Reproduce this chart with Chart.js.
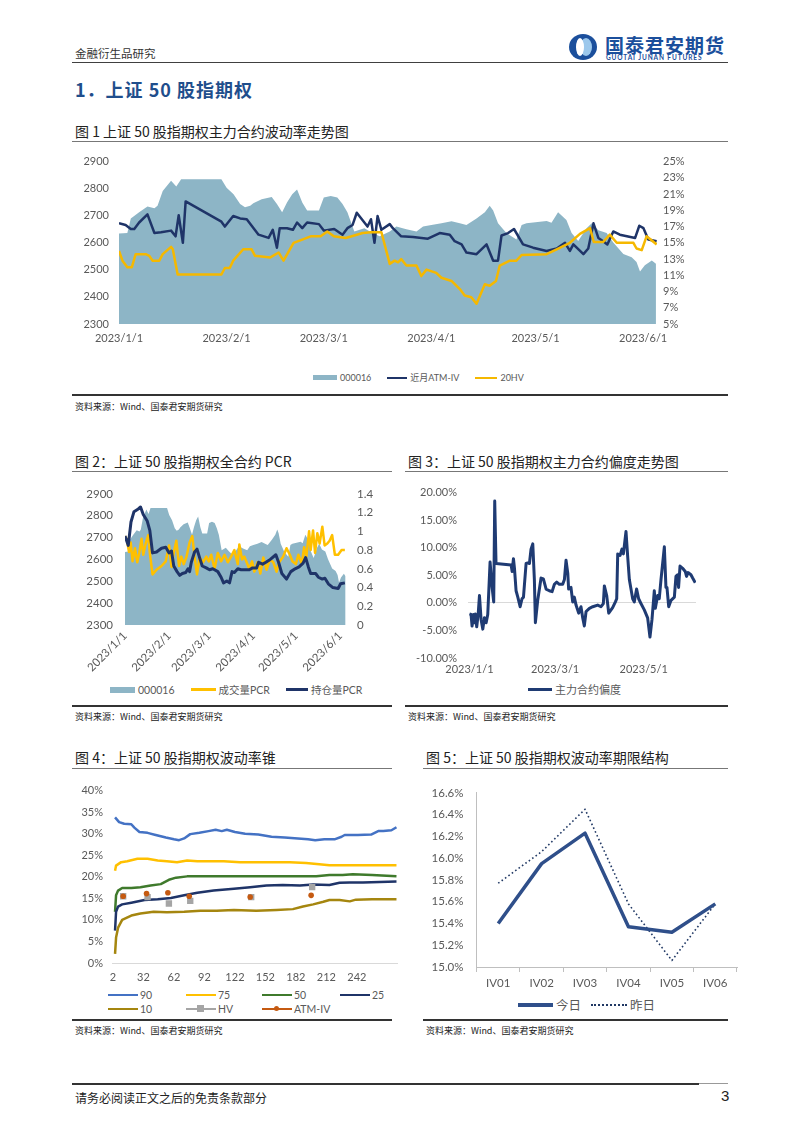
<!DOCTYPE html>
<html>
<head>
<meta charset="utf-8">
<script src="https://cdn.jsdelivr.net/npm/chart.js@4.4.0/dist/chart.umd.min.js"></script>
<style>
  body { margin: 0; background: #fff; }
  #page { position: relative; width: 802px; height: 1134px; overflow: hidden; font-family: "Noto Sans CJK SC", sans-serif; color: #222; }
  .rule { position: absolute; height: 0; border-top: 1.5px solid #404040; }
  .txt { position: absolute; white-space: nowrap; }
  .cap { position: absolute; white-space: nowrap; font-size: 14px; line-height: 16px; color: #222; }
  .src { position: absolute; white-space: nowrap; font-size: 9px; line-height: 12px; color: #222; }
  .box { position: absolute; }
  .legend { position: absolute; white-space: nowrap; font-family: Lato, "Noto Sans CJK SC", sans-serif; color: #595959; display: flex; align-items: center; }
  .lg { display: inline-flex; align-items: center; margin-right: 16px; }
  .lg i { display: inline-block; margin-right: 3px; position: relative; }
  .cell { position: absolute; display: flex; align-items: center; font-family: Lato, "Noto Sans CJK SC", sans-serif; color: #595959; font-size: 10.5px; }
  .cell i { display: inline-block; width: 30px; height: 0; border-top: 2.5px solid; margin-right: 2px; position: relative; }
  .cell b { position: absolute; left: 11px; top: -5.5px; width: 7px; height: 7px; }
</style>
</head>
<body>
<div id="page">
  <div class="txt" style="left:75px;top:45px;font-size:11.5px;color:#333;">金融衍生品研究</div>
  <div class="txt" style="left:569px;top:34px;width:28px;height:26px;border-radius:50%;background:#1b4f9c;"></div>
  <div class="txt" style="left:580px;top:38px;width:12px;height:18px;border-radius:50%;background:#9cc8ec;"></div>
  <div class="txt" style="left:576px;top:38px;width:8px;height:18px;border-radius:50%;background:#fff;"></div>
  <div class="txt" style="left:605px;top:31px;font-size:19px;font-weight:700;color:#1b4f9c;letter-spacing:1px;">国泰君安期货</div>
  <div class="txt" style="left:606px;top:54px;font-size:6.5px;font-family:Lato,sans-serif;font-weight:700;color:#1b4f9c;letter-spacing:0.9px;">GUOTAI JUNAN FUTURES</div>
  <div class="rule" style="left:72px;top:62px;width:656px;"></div>

  <div class="txt" style="left:75px;top:76px;font-size:18px;font-weight:700;color:#1f4e8c;letter-spacing:1px;">1．上证 50 股指期权</div>

  <!-- figure 1 -->
  <div class="cap" style="left:75px;top:123px;">图 1 上证 50 股指期权主力合约波动率走势图</div>
  <div class="rule" style="left:72px;top:141px;width:656px;border-color:#777;"></div>
  <div class="box" style="left:72px;top:145px;width:656px;height:200px;"><canvas id="c1"></canvas></div>
  <div class="legend" style="left:313px;top:371px;font-size:9px;">
    <span class="lg"><i style="width:24px;height:5px;background:#8db5c6;"></i>000016</span>
    <span class="lg"><i style="width:20px;border-top:2.5px solid #1f3468;"></i>近月ATM-IV</span>
    <span class="lg"><i style="width:22px;border-top:2.5px solid #f5b800;"></i>20HV</span>
  </div>
  <div class="rule" style="left:72px;top:394px;width:656px;border-top-width:2px;border-color:#333;"></div>
  <div class="src" style="left:75px;top:401px;">资料来源：Wind、国泰君安期货研究</div>

  <!-- figure 2 -->
  <div class="cap" style="left:75px;top:453px;">图 2：上证 50 股指期权全合约 PCR</div>
  <div class="rule" style="left:72px;top:471px;width:320px;border-color:#777;"></div>
  <div class="box" style="left:72px;top:475px;width:320px;height:200px;"><canvas id="c2"></canvas></div>
  <div class="legend" style="left:110px;top:682px;font-size:10.5px;">
    <span class="lg"><i style="width:25px;height:6px;background:#8db5c6;"></i>000016</span>
    <span class="lg"><i style="width:25px;border-top:3px solid #ffc000;"></i>成交量PCR</span>
    <span class="lg"><i style="width:22px;border-top:3px solid #1f3468;"></i>持仓量PCR</span>
  </div>
  <div class="rule" style="left:72px;top:705px;width:320px;border-top-width:2px;border-color:#333;"></div>
  <div class="src" style="left:75px;top:711px;">资料来源：Wind、国泰君安期货研究</div>

  <!-- figure 3 -->
  <div class="cap" style="left:408px;top:453px;">图 3：上证 50 股指期权主力合约偏度走势图</div>
  <div class="rule" style="left:405px;top:471px;width:323px;border-color:#777;"></div>
  <div class="box" style="left:405px;top:475px;width:323px;height:203px;"><canvas id="c3"></canvas></div>
  <div class="legend" style="left:528px;top:681px;font-size:11px;">
    <span class="lg"><i style="width:24px;border-top:3px solid #1f3b73;"></i>主力合约偏度</span>
  </div>
  <div class="rule" style="left:405px;top:705px;width:323px;border-top-width:2px;border-color:#333;"></div>
  <div class="src" style="left:408px;top:711px;">资料来源：Wind、国泰君安期货研究</div>

  <!-- figure 4 -->
  <div class="cap" style="left:75px;top:749px;">图 4：上证 50 股指期权波动率锥</div>
  <div class="rule" style="left:72px;top:768px;width:320px;border-color:#777;"></div>
  <div class="box" style="left:72px;top:775px;width:330px;height:210px;"><canvas id="c4"></canvas></div>
  <div class="cell" style="left:108px;top:989px;"><i style="border-color:#4472c4;"></i>90</div>
  <div class="cell" style="left:186px;top:989px;"><i style="border-color:#ffc000;"></i>75</div>
  <div class="cell" style="left:262px;top:989px;"><i style="border-color:#3f7a2c;"></i>50</div>
  <div class="cell" style="left:340px;top:989px;"><i style="border-color:#1f3468;"></i>25</div>
  <div class="cell" style="left:108px;top:1003px;"><i style="border-color:#a5860f;"></i>10</div>
  <div class="cell" style="left:186px;top:1003px;"><i style="border-color:#a5a5a5;"><b style="background:#a5a5a5;"></b></i>HV</div>
  <div class="cell" style="left:262px;top:1003px;"><i style="border-color:#c55a11;"><b style="background:#c55a11;border-radius:50%;width:5px;height:5px;top:-4px;left:12px;"></b></i>ATM-IV</div>
  <div class="rule" style="left:72px;top:1019px;width:320px;border-top-width:2px;border-color:#333;"></div>
  <div class="src" style="left:75px;top:1025px;">资料来源：Wind、国泰君安期货研究</div>

  <!-- figure 5 -->
  <div class="cap" style="left:426px;top:749px;">图 5：上证 50 股指期权波动率期限结构</div>
  <div class="rule" style="left:423px;top:768px;width:305px;border-color:#777;"></div>
  <div class="box" style="left:405px;top:773px;width:335px;height:218px;"><canvas id="c5"></canvas></div>
  <div class="legend" style="left:518px;top:995px;font-size:12.5px;font-family:'Noto Sans CJK SC',sans-serif;">
    <span class="lg" style="margin-right:10px;"><i style="width:35px;border-top:4px solid #2f4f8a;"></i>今日</span>
    <span class="lg"><i style="width:36px;border-top:2px dotted #203864;"></i>昨日</span>
  </div>
  <div class="rule" style="left:423px;top:1019px;width:305px;border-top-width:2px;border-color:#333;"></div>
  <div class="src" style="left:426px;top:1025px;">资料来源：Wind、国泰君安期货研究</div>

  <!-- footer -->
  <div class="rule" style="left:72px;top:1083px;width:627px;border-top-width:2px;border-color:#333;"></div>
  <div class="rule" style="left:699px;top:1083px;width:29px;border-color:#999;"></div>
  <div class="txt" style="left:75px;top:1089px;font-size:12px;color:#222;">请务必阅读正文之后的免责条款部分</div>
  <div class="txt" style="left:721px;top:1087px;font-size:15px;font-family:'Liberation Sans',sans-serif;color:#222;">3</div>
</div>

<script>
// ---- shared date ticks (days since 2023/1/1) ----
const monthDays = [0, 31, 59, 90, 120, 151];
const monthLabels = ['2023/1/1', '2023/2/1', '2023/3/1', '2023/4/1', '2023/5/1', '2023/6/1'];

// ---- 000016 index (figures 1 and 2) ----
const idxDays = [0, 2.4, 3.4, 5.8, 8.2, 10.2, 11.1, 12.6, 15, 16.5, 17.9, 29.5, 31, 33, 34.9, 36.3, 37.8, 38.7, 41.1, 44,
  45.5, 47, 48.4, 49.9, 51.3, 52.8, 54.2, 57.6, 59, 61, 62.9, 64.4, 65.8, 67.8, 70.7, 73, 75.1, 78, 79.9, 82.8,
  85.7, 87.6, 90, 92.9, 95.8, 98.2, 100.1, 103, 105.4, 106.8, 107.8, 109.2, 111.6, 114.5, 116, 117.4, 123.2, 124.6, 126.5, 128.9,
  130.4, 132.3, 134.7, 136.2, 138.1, 140.5, 142.4, 145.3, 147.7, 149.1, 150.1, 151.5, 153.5, 154.7];
const idxVals = [2634, 2636, 2690, 2713, 2734, 2728, 2737, 2791, 2829, 2808, 2835, 2835, 2803, 2779, 2743, 2731, 2737, 2746, 2761, 2769,
  2743, 2713, 2749, 2779, 2797, 2749, 2719, 2719, 2767, 2773, 2767, 2743, 2713, 2642, 2654, 2636, 2624, 2642, 2660, 2650,
  2642, 2660, 2666, 2672, 2680, 2672, 2666, 2690, 2713, 2737, 2719, 2672, 2636, 2612, 2666, 2672, 2681, 2674, 2713, 2684,
  2636, 2607, 2654, 2672, 2646, 2636, 2601, 2559, 2547, 2529, 2494, 2517, 2535, 2523];

// ---- figure 1: near-month ATM IV and 20-day HV (%) ----
const ivDays = [0, 1.9, 3.4, 4.4, 5.8, 8.2, 10.2, 12.1, 15, 16.3, 17.2, 18.4, 19.2, 29.5, 30.5, 32.9, 34.9, 36.8, 40.2, 43.1,
  44.3, 45.5, 46.3, 48.4, 50.1, 51.3, 52.8, 54.2, 57.6, 59, 62, 64.4, 65.8, 67.3, 68.5, 71.6, 72.6, 73.6, 74.5, 75.6,
  78, 78.9, 81.3, 84.7, 89, 92.4, 95.3, 96.7, 98.7, 100.1, 103, 105.9, 107.8, 109.2, 110.2, 112.1, 113.8, 116.4, 119.3, 123.2,
  126.1, 128.5, 129.9, 130.9, 133.8, 135.2, 136.7, 138.1, 139.5, 140.7, 142.4, 144.3, 148.7, 149.9, 151.1, 152.5, 154.9];
const ivVals = [17.4, 17.2, 16.7, 16.7, 17.5, 18.5, 16.2, 16.3, 16.5, 15.8, 18.4, 15.0, 20.1, 17.6, 17.0, 18.3, 18.0, 17.9, 16.0, 15.6,
  16.6, 14.4, 16.8, 16.8, 16.6, 17.5, 16.8, 17.5, 17.3, 16.5, 16.7, 16.0, 16.8, 17.2, 18.7, 17.0, 17.9, 15.0, 18.3, 16.6,
  17.3, 16.8, 15.8, 15.7, 15.5, 16.2, 16.0, 15.2, 14.8, 13.8, 13.6, 14.8, 12.8, 12.8, 15.9, 16.2, 16.7, 14.8, 14.4, 14.0,
  14.3, 15.0, 14.0, 14.8, 13.6, 14.3, 17.4, 15.6, 15.2, 14.8, 16.4, 16.0, 15.6, 17.1, 16.8, 15.4, 15.2];
const hvDays = [0, 1, 2.4, 3.7, 4.8, 7.7, 8.7, 9.7, 11.6, 12.6, 15, 15.5, 16.9, 29.5, 30.5, 31.9, 32.9, 35.8, 38.2, 39.2,
  43.6, 46, 47.4, 50.3, 52.8, 55.2, 58.1, 60, 61.9, 65.3, 67.8, 70.2, 72.6, 75.6, 78, 79.4, 80.4, 81.3, 82.8, 85.7,
  87.1, 88.6, 91.4, 92.9, 95.8, 98.2, 99.6, 101.5, 103, 105.4, 106.8, 108.6, 109.7, 112.6, 114.5, 116, 123.2, 126.1, 129.9, 132.8,
  135.7, 136.8, 139.5, 141.4, 143.4, 148.2, 149.1, 150.6, 152, 154.9];
const hvVals = [14.0, 12.8, 12.0, 12.0, 13.6, 13.6, 13.4, 12.8, 12.8, 13.6, 14.5, 14.2, 11.1, 11.1, 11.9, 11.9, 12.8, 14.2, 14.2, 13.4,
  13.2, 13.8, 12.8, 15.0, 15.4, 15.8, 15.8, 16.4, 15.8, 15.6, 15.9, 16.2, 16.3, 16.3, 12.4, 12.8, 12.6, 13.0, 12.2, 12.2,
  10.9, 11.7, 11.3, 10.7, 10.3, 9.3, 8.5, 8.3, 7.5, 9.9, 9.7, 10.3, 12.2, 12.8, 12.8, 13.5, 13.6, 14.2, 15.0, 16.1,
  16.8, 15.1, 15.1, 16.0, 15.0, 15.0, 14.3, 14.1, 15.8, 14.8];

// ---- figure 2: PCR ----
const volPcrDays = [0, 1.2, 2.8, 4, 5.3, 7, 8.6, 10, 11.6, 12.8, 14.7, 16.3, 17.4, 19.3, 22.1, 25.6, 28.6, 30.9, 32.6, 34.2,
  36, 37.9, 39.5, 41.2, 43, 45.3, 47.2, 48.8, 50.5, 52.3, 54.7, 57, 58.8, 60.5, 62.8, 65.1, 67.4, 69.8, 72.1, 74.4,
  76.7, 79.1, 80.2, 82.1, 83.7, 85.3, 87.2, 89.1, 90.7, 93, 94.9, 97, 99.3, 101.6, 104, 106.3, 108.1, 110.9, 113.3, 115.6,
  117.4, 119.8, 121.6, 124, 125.6, 127.2, 129.1, 130.2, 131.9, 133.3, 134.9, 136.5, 138.4, 140, 141.9, 143.5, 145.3, 147.2, 149.5, 151.9, 154.2];
const volPcrVals = [0.95, 0.92, 0.78, 0.88, 0.68, 0.82, 0.67, 0.77, 0.92, 0.75, 0.88, 0.96, 0.77, 0.54, 0.59, 0.63, 0.68, 0.85, 0.62, 0.77,
  0.90, 0.63, 0.73, 0.65, 0.72, 0.88, 0.95, 0.73, 0.54, 0.72, 0.67, 0.73, 0.68, 0.75, 0.60, 0.77, 0.68, 0.75, 0.67, 0.73,
  0.80, 0.65, 0.86, 0.70, 0.73, 0.67, 0.60, 0.68, 0.57, 0.67, 0.55, 0.72, 0.59, 0.70, 0.67, 0.57, 0.67, 0.73, 0.82, 0.75,
  0.68, 0.65, 0.75, 0.65, 0.83, 0.73, 1.00, 0.80, 1.01, 0.77, 0.98, 0.87, 1.05, 0.85, 0.87, 0.90, 0.96, 0.75, 0.75, 0.80, 0.80];
const oiPcrDays = [0, 2.3, 4.2, 6.3, 9.3, 10.9, 12.8, 15.6, 17.4, 19.3, 22.1, 25.6, 28.6, 30.9, 32.6, 34.2, 36.5, 38.4, 40.2, 42.6,
  44.2, 45.3, 46.5, 48.8, 50.5, 52.3, 54.2, 57, 59.3, 61.6, 65.1, 67.4, 69.1, 71.4, 73.3, 75.1, 76.7, 79.1, 81.4, 84.9,
  87.2, 89.5, 92.3, 93.7, 96.5, 98.8, 101.9, 105.8, 107.7, 110, 113.3, 116.3, 119.3, 122.1, 124.9, 126.7, 128.6, 130.2, 133.7, 135.6,
  138.4, 140.2, 142.6, 145.8, 149.5, 151.2, 154.2];
const oiPcrVals = [0.95, 0.85, 1.10, 1.21, 1.24, 1.26, 1.18, 1.11, 1.01, 0.77, 0.78, 0.82, 0.83, 0.77, 0.79, 0.63, 0.57, 0.53, 0.55, 0.56,
  0.60, 0.57, 0.67, 0.78, 0.81, 0.72, 0.63, 0.61, 0.59, 0.60, 0.57, 0.51, 0.45, 0.47, 0.45, 0.57, 0.56, 0.60, 0.59, 0.59,
  0.59, 0.61, 0.61, 0.67, 0.65, 0.67, 0.70, 0.75, 0.67, 0.55, 0.49, 0.57, 0.60, 0.62, 0.66, 0.72, 0.62, 0.55, 0.55, 0.51,
  0.49, 0.50, 0.44, 0.40, 0.39, 0.44, 0.45];

// ---- figure 3: main contract skew (%) ----
const skewTickDays = [0, 59, 120];
const skewDays = [0, 1.1, 1.8, 2.8, 3.4, 4.1, 5, 6, 6.9, 8, 9.2, 10.3, 11.5, 12.6, 14.2, 15.6, 16.7, 17.4, 18.3, 28.7,
  29.4, 30.3, 31, 32.1, 33.3, 34.9, 36.2, 37.2, 39, 40.1, 41.3, 42.4, 43.6, 44.7, 45.4, 47, 49.3, 50.9, 52.8, 55,
  56.9, 58.5, 60.1, 61.9, 64.2, 65.4, 66.5, 67.7, 68.3, 69.9, 71.1, 72.2, 73.4, 75.2, 76.8, 78, 79.1, 80.3, 82.6, 84.9,
  88.3, 90.6, 92.2, 92.9, 94.5, 95.9, 98.6, 100.5, 101.4, 102.1, 103.7, 105, 106, 107.8, 108.9, 110.1, 112.4, 113.5, 115.1, 116.5,
  118.1, 120.4, 122.7, 124.3, 125.7, 127.3, 128, 129.6, 130.7, 131.9, 134.2, 135.3, 136, 137.2, 138.8, 141.1, 142.2, 143.3, 144, 145,
  146.8, 148.6, 149.5, 150.5, 152.5, 153.7, 155.5];
const skewVals = [-2.0, -2.1, -4.2, -2.1, -3.6, -2.0, -4.35, -2.1, 1.33, -3.0, -4.76, -2.7, -3.6, -2.1, 7.4, 2.8, 0.17, 18.46, 7.14, 6.85,
  5.7, 8.0, 6.27, 2.2, 1.04, -0.7, 0.75, 1.04, 7.14, 7.25, 7.14, 9.75, 10.7, 4.24, -3.6, 0.46, 4.5, 4.35, 2.5, 2.2,
  2.03, 3.37, 3.77, 3.37, 3.37, 4.24, 7.72, 5.4, 2.5, 2.8, 0.17, 1.04, -0.4, -1.86, -0.7, -2.73, -4.18, -1.57, -0.99, -0.7,
  -0.4, -0.7, -0.12, 3.08, 1.33, -1.86, -0.87, 0.17, 0.75, 8.88, 8.6, 9.75, 8.88, 12.94, 8.6, 4.24, 0.75, 0.17, 2.5, 0.75,
  -0.12, -1.28, -2.73, -6.2, -3.0, 2.2, -0.99, 1.33, 0.75, 4.24, 10.16, 2.8, 2.8, -0.7, 0.46, 1.04, 4.8, 5.1, 2.8, 6.67,
  6.27, 5.7, 4.8, 5.5, 5.1, 4.5, 3.66];

// ---- figure 4: volatility cone (%), x = window length ----
const coneTicks = [2, 32, 62, 92, 122, 152, 182, 212, 242];
const cone90X = [4, 8, 13, 20, 23, 28, 36, 44, 54, 62, 67, 72, 78, 87, 96, 103, 109, 114, 122, 132, 145, 158, 171, 184, 194, 201, 210, 220, 227, 230, 243, 256, 263, 268, 276, 281];
const cone90Y = [33.8, 32.7, 32.3, 32.2, 31.4, 30.4, 30.2, 29.7, 29.1, 28.7, 28.5, 28.9, 29.9, 30.2, 30.6, 30.9, 30.6, 30.9, 30.4, 30.0, 29.8, 29.3, 29.1, 28.9, 28.7, 28.5, 28.7, 28.7, 29.3, 29.7, 29.7, 29.8, 30.6, 30.6, 30.8, 31.5];
const cone75X = [4, 5, 10, 16, 26, 36, 46, 55, 65, 75, 85, 95, 111, 127, 143, 160, 176, 192, 205, 215, 241, 281];
const cone75Y = [21.4, 22.6, 23.4, 23.6, 24.2, 24.2, 23.8, 23.6, 23.4, 23.8, 23.6, 23.6, 23.6, 23.4, 23.4, 23.4, 23.4, 23.2, 22.9, 22.7, 22.7, 22.7];
const cone50X = [4, 5, 7, 11, 20, 29, 39, 49, 57, 64, 75, 85, 111, 143, 176, 202, 215, 228, 238, 257, 281];
const cone50Y = [11.9, 15.7, 16.8, 17.4, 17.4, 17.6, 18.0, 18.3, 19.3, 19.8, 20.1, 20.1, 20.1, 20.1, 20.1, 20.1, 20.4, 20.4, 20.6, 20.4, 20.1];
const cone25X = [4, 5, 7, 11, 20, 33, 46, 59, 72, 85, 101, 121, 137, 153, 169, 186, 199, 215, 225, 235, 248, 281];
const cone25Y = [7.5, 11.9, 13.1, 13.6, 14.0, 14.6, 14.8, 15.1, 15.7, 16.3, 16.8, 17.2, 17.6, 18.0, 18.1, 18.0, 18.2, 18.1, 18.6, 18.7, 18.7, 18.9];
const cone10X = [4, 5, 7, 11, 20, 29, 42, 55, 72, 88, 104, 121, 143, 163, 179, 189, 199, 209, 215, 225, 235, 241, 257, 281];
const cone10Y = [2.1, 5.9, 8.2, 10.0, 11.0, 11.5, 11.9, 11.8, 11.9, 12.1, 12.1, 12.3, 12.1, 12.3, 12.5, 13.1, 13.6, 14.2, 14.6, 14.6, 14.3, 14.7, 14.8, 14.8];
const coneHvX = [12, 36, 57, 78, 138, 198];
const coneHvY = [15.5, 15.3, 13.8, 14.4, 15.3, 17.6];
const coneAtmX = [12, 35, 56, 77, 137, 197];
const coneAtmY = [15.5, 16.1, 16.3, 15.5, 15.3, 15.7];

// ---- figure 5: term structure (%) ----
const termLabels = ['IV01', 'IV02', 'IV03', 'IV04', 'IV05', 'IV06'];
const termToday = [15.40, 15.95, 16.23, 15.37, 15.32, 15.58];
const termYesterday = [15.77, 16.06, 16.45, 15.58, 15.06, 15.58];

// ---- helpers ----
const xy = (xs, ys) => xs.map((x, i) => ({ x: x, y: ys[i] }));
const fixW = w => s => { s.width = w; };
const fixH = h => s => { s.height = h; };
const setTicks = vals => s => { s.ticks = vals.map(v => ({ value: v })); };
const noGrid = { display: false, drawTicks: false };
const noBorder = { display: false };

Chart.defaults.font.family = 'Lato, "Noto Sans CJK SC", sans-serif';
Chart.defaults.font.size = 11;
Chart.defaults.color = '#595959';
Chart.defaults.animation = false;
Chart.defaults.responsive = true;
Chart.defaults.maintainAspectRatio = false;
Chart.defaults.plugins.legend.display = false;
Chart.defaults.plugins.tooltip.enabled = false;
Chart.defaults.elements.point.radius = 0;
Chart.defaults.elements.line.tension = 0;
Chart.defaults.elements.line.borderJoinStyle = 'round';

const areaColor = '#8db5c6';
const navy = '#1f3468';

// figure 1
new Chart(document.getElementById('c1'), {
    type: 'line',
    data: {
        datasets: [
            { label: '20HV', data: xy(hvDays, hvVals), yAxisID: 'yr', borderColor: '#f5b800', borderWidth: 2.5, order: 1 },
            { label: '近月ATM-IV', data: xy(ivDays, ivVals), yAxisID: 'yr', borderColor: navy, borderWidth: 2.5, order: 2 },
            { label: '000016', data: xy(idxDays, idxVals), yAxisID: 'y', borderWidth: 0, backgroundColor: areaColor, fill: 'start', order: 3 }
        ]
    },
    options: {
        layout: { padding: { top: 11 } },
        scales: {
            x: {
                type: 'linear', min: 0, max: 155, grid: noGrid, border: noBorder,
                afterBuildTicks: setTicks(monthDays),
                ticks: { autoSkip: false, maxRotation: 0, padding: 8, callback: v => monthLabels[monthDays.indexOf(v)] },
                afterFit: fixH(21)
            },
            y: {
                position: 'left', min: 2300, max: 2900, grid: noGrid, border: noBorder,
                ticks: { stepSize: 100, padding: 10, callback: v => String(v) },
                afterFit: fixW(47)
            },
            yr: {
                position: 'right', min: 5, max: 25, grid: noGrid, border: noBorder,
                ticks: { stepSize: 2, padding: 6, callback: v => v + '%' },
                afterFit: fixW(71)
            }
        }
    }
});

// figure 2
new Chart(document.getElementById('c2'), {
    type: 'line',
    data: {
        datasets: [
            { label: '持仓量PCR', data: xy(oiPcrDays, oiPcrVals), yAxisID: 'yr', borderColor: navy, borderWidth: 3, order: 1 },
            { label: '成交量PCR', data: xy(volPcrDays, volPcrVals), yAxisID: 'yr', borderColor: '#ffc000', borderWidth: 2.5, order: 2 },
            { label: '000016', data: xy(idxDays, idxVals), yAxisID: 'y', borderWidth: 0, backgroundColor: areaColor, fill: 'start', order: 3 }
        ]
    },
    options: {
        layout: { padding: { top: 11 } },
        scales: {
            x: {
                type: 'linear', min: 0, max: 155, grid: noGrid, border: noBorder,
                afterBuildTicks: setTicks(monthDays),
                ticks: { autoSkip: false, minRotation: 45, maxRotation: 45, padding: 4, font: { size: 11.5 }, callback: v => monthLabels[monthDays.indexOf(v)] },
                afterFit: fixH(50)
            },
            y: {
                position: 'left', min: 2300, max: 2900, grid: noGrid, border: noBorder,
                ticks: { stepSize: 100, padding: 12, font: { size: 11.5 }, callback: v => String(v) },
                afterFit: fixW(53)
            },
            yr: {
                position: 'right', min: 0, max: 1.4, grid: noGrid, border: noBorder,
                ticks: { stepSize: 0.2, padding: 11, font: { size: 11.5 }, callback: v => String(+v.toFixed(1)) },
                afterFit: fixW(46)
            }
        }
    }
});

// figure 3
new Chart(document.getElementById('c3'), {
    type: 'line',
    data: {
        datasets: [
            { label: '主力合约偏度', data: xy(skewDays, skewVals), borderColor: '#1f3b73', borderWidth: 3 }
        ]
    },
    options: {
        layout: { padding: { top: 11, right: 32 } },
        scales: {
            x: {
                type: 'linear', min: -1, max: 156, grid: noGrid, border: noBorder,
                afterBuildTicks: setTicks(skewTickDays),
                ticks: { autoSkip: false, maxRotation: 0, padding: 5, callback: v => monthLabels[monthDays.indexOf(v)] },
                afterFit: fixH(20)
            },
            y: {
                min: -10, max: 20, border: noBorder,
                grid: { drawTicks: false, color: c => (c.tick && c.tick.value === 0 ? '#d9d9d9' : 'rgba(0,0,0,0)') },
                ticks: { stepSize: 5, padding: 11, callback: v => v.toFixed(2) + '%' },
                afterFit: fixW(63)
            }
        }
    }
});

// figure 4
new Chart(document.getElementById('c4'), {
    type: 'line',
    data: {
        datasets: [
            { label: 'ATM-IV', data: xy(coneAtmX, coneAtmY), showLine: false, pointRadius: 2.8, pointStyle: 'circle', backgroundColor: '#c55a11', borderColor: '#c55a11', borderWidth: 0, order: 1 },
            { label: 'HV', data: xy(coneHvX, coneHvY), showLine: false, pointRadius: 4.5, pointStyle: 'rect', backgroundColor: '#a5a5a5', borderColor: '#a5a5a5', borderWidth: 0, order: 2 },
            { label: '10', data: xy(cone10X, cone10Y), borderColor: '#a5860f', borderWidth: 2.5, order: 3 },
            { label: '25', data: xy(cone25X, cone25Y), borderColor: navy, borderWidth: 2.5, order: 4 },
            { label: '50', data: xy(cone50X, cone50Y), borderColor: '#3f7a2c', borderWidth: 2.5, order: 5 },
            { label: '75', data: xy(cone75X, cone75Y), borderColor: '#ffc000', borderWidth: 2.5, order: 6 },
            { label: '90', data: xy(cone90X, cone90Y), borderColor: '#4472c4', borderWidth: 2.5, order: 7 }
        ]
    },
    options: {
        layout: { padding: { top: 11, right: 4 } },
        scales: {
            x: {
                type: 'linear', min: 1, max: 282, grid: noGrid,
                border: { display: true, color: '#d9d9d9', width: 1 },
                afterBuildTicks: setTicks(coneTicks),
                ticks: { autoSkip: false, maxRotation: 0, padding: 8 },
                afterFit: fixH(22)
            },
            y: {
                min: 0, max: 40, grid: noGrid, border: noBorder,
                ticks: { stepSize: 5, padding: 9, callback: v => v + '%' },
                afterFit: fixW(40)
            }
        }
    }
});

// figure 5
new Chart(document.getElementById('c5'), {
    type: 'line',
    data: {
        labels: termLabels,
        datasets: [
            { label: '今日', data: termToday, borderColor: '#2f4f8a', borderWidth: 3.5, order: 1 },
            { label: '昨日', data: termYesterday, borderColor: '#203864', borderWidth: 1.6, borderDash: [1.6, 2.6], borderCapStyle: 'butt', order: 2 }
        ]
    },
    options: {
        layout: { padding: { top: 11, right: 3 } },
        scales: {
            x: {
                offset: true,
                grid: { display: true, drawOnChartArea: false, drawTicks: true, tickLength: 5, offset: true, color: '#bfbfbf' },
                border: { display: true, color: '#bfbfbf' },
                ticks: { padding: 4, font: { size: 11.5 } },
                afterFit: fixH(24)
            },
            y: {
                min: 15.0, max: 16.6, grid: noGrid,
                border: { display: true, color: '#bfbfbf' },
                ticks: { stepSize: 0.2, padding: 13, font: { size: 11.5 }, callback: v => v.toFixed(1) + '%' },
                afterFit: fixW(71.5)
            }
        }
    }
});
</script>
</body>
</html>
